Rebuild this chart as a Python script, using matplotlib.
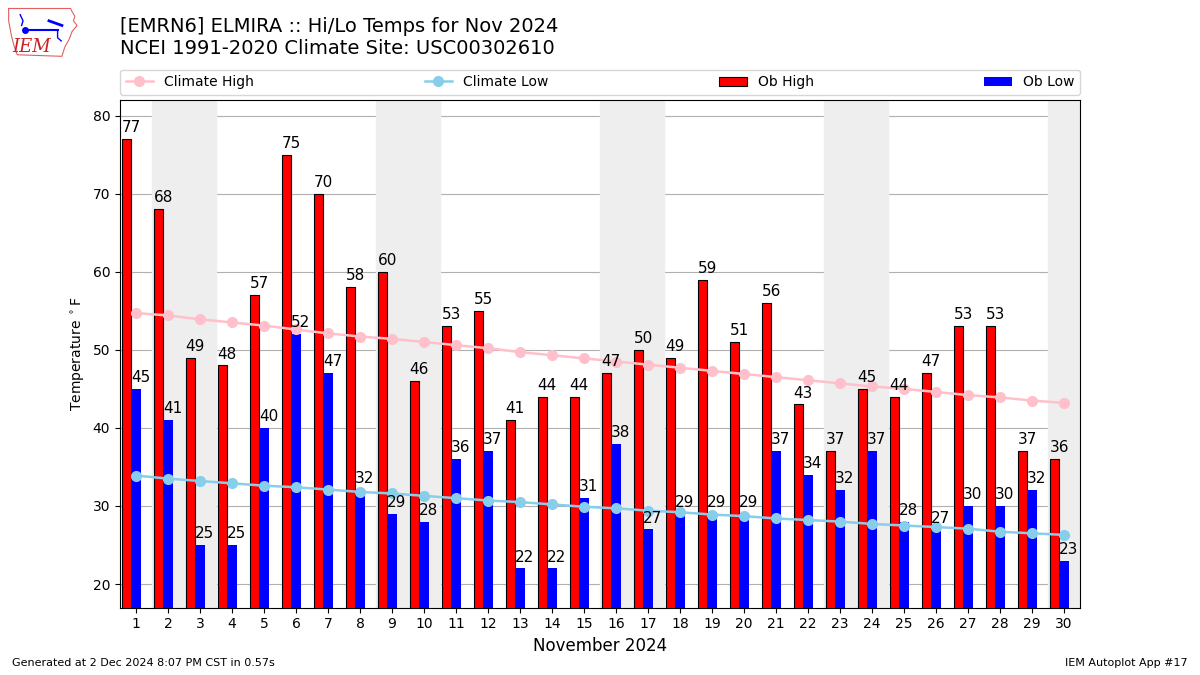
import numpy as np
import matplotlib
matplotlib.use('Agg')
import matplotlib.pyplot as plt

# day of month, Nov 2024
days = np.arange(1, 31)

ob_high = [77, 68, 49, 48, 57, 75, 70, 58, 60, 46, 53, 55, 41, 44, 44,
           47, 50, 49, 59, 51, 56, 43, 37, 45, 44, 47, 53, 53, 37, 36]
ob_low = [45, 41, 25, 25, 40, 52, 47, 32, 29, 28, 36, 37, 22, 22, 31,
          38, 27, 29, 29, 29, 37, 34, 32, 37, 28, 27, 30, 30, 32, 23]

# NCEI 1991-2020 daily normals
clim_high = [54.7, 54.4, 53.9, 53.5, 53.1, 52.6, 52.1, 51.7, 51.4, 51.0,
             50.6, 50.2, 49.7, 49.3, 48.9, 48.5, 48.1, 47.7, 47.3, 46.9,
             46.5, 46.1, 45.7, 45.3, 45.0, 44.6, 44.2, 43.9, 43.5, 43.2]
clim_low = [33.9, 33.5, 33.2, 32.9, 32.6, 32.4, 32.1, 31.8, 31.6, 31.3,
            31.0, 30.7, 30.5, 30.2, 29.9, 29.7, 29.4, 29.2, 28.9, 28.7,
            28.4, 28.2, 28.0, 27.7, 27.5, 27.3, 27.1, 26.7, 26.5, 26.3]

# saturdays / sundays get shaded
weekend_days = [2, 3, 9, 10, 16, 17, 23, 24, 30]

fig = plt.figure(figsize=(12, 6.75), dpi=100)
ax = fig.add_axes([0.1, 0.1, 0.8, 0.752])

for d in weekend_days:
    ax.axvspan(d - 0.5, d + 0.5, color='#EEEEEE', zorder=1)

ax.grid(True, axis='y', color='#b0b0b0', linewidth=0.8, zorder=2)
ax.set_axisbelow(True)

width = 0.3
ax.plot(days, clim_high, color='pink', marker='o', linewidth=1.8,
        markersize=7, label='Climate High', zorder=4)
ax.plot(days, clim_low, color='skyblue', marker='o', linewidth=1.8,
        markersize=7, label='Climate Low', zorder=4)
ax.bar(days - width, ob_high, width=width, color='red', edgecolor='black',
       linewidth=0.8, label='Ob High', zorder=3)
ax.bar(days, ob_low, width=width, color='blue', edgecolor='black',
       linewidth=0.0, label='Ob Low', zorder=3)

for d, h, l in zip(days, ob_high, ob_low):
    ax.text(d - 1.5 * width, h + 0.5, str(h), ha='left', va='bottom',
            fontsize=11, zorder=5)
    ax.text(d - 0.5 * width, l + 0.5, str(l), ha='left', va='bottom',
            fontsize=11, zorder=5)

ax.set_xlim(0.5, 30.5)
ax.set_ylim(17, 82)
ax.set_xticks(days)
ax.set_yticks(range(20, 81, 10))
ax.tick_params(labelsize=10)
ax.set_xlabel('November 2024', fontsize=12)
ax.set_ylabel(r'Temperature $^\circ$F', fontsize=10)

ax.legend(loc='lower left', bbox_to_anchor=(0, 1.01, 1, 0.05),
          mode='expand', ncol=4, fontsize=10, borderaxespad=0)

fig.text(0.1, 0.975, '[EMRN6] ELMIRA :: Hi/Lo Temps for Nov 2024\n'
         'NCEI 1991-2020 Climate Site: USC00302610',
         fontsize=14, va='top', ha='left')
fig.text(0.01, 0.01, 'Generated at 2 Dec 2024 8:07 PM CST in 0.57s',
         fontsize=8, va='bottom', ha='left')
fig.text(0.99, 0.01, 'IEM Autoplot App #17', fontsize=8,
         va='bottom', ha='right')

# rough IEM logo
lax = fig.add_axes([0.006, 0.912, 0.06, 0.08])
lax.set_xlim(0, 100)
lax.set_ylim(0, 70)
lax.axis('off')
ox = [2, 88, 90, 94, 92, 97, 90, 86, 80, 76, 14, 10, 6, 2, 2]
oy = [66, 66, 62, 56, 50, 44, 36, 26, 16, 4, 6, 16, 30, 50, 66]
lax.plot(ox, oy, color='#e06060', linewidth=0.8)
lax.text(34, 4, 'IEM', color='#cc2020', fontsize=13, family='DejaVu Serif',
         style='italic', ha='center', va='bottom')
lax.plot([25, 70], [38, 38], color='blue', linewidth=1.5)
lax.plot([25], [38], 'o', color='blue', markersize=4)
lax.plot([58, 76], [50, 44], color='blue', linewidth=2)
lax.plot([70, 70, 75], [38, 28, 24], color='blue', linewidth=1)
lax.plot([18, 22, 20], [58, 50, 44], color='blue', linewidth=1)

fig.savefig('out.png', dpi=100)
